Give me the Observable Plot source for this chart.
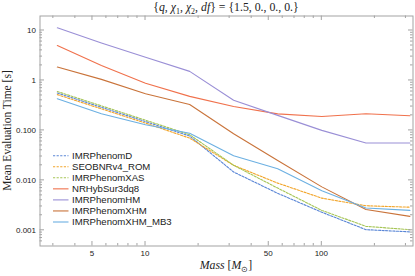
<!DOCTYPE html>
<html>
<head>
<meta charset="utf-8">
<script src="https://cdn.jsdelivr.net/npm/d3@7"></script>
<script src="https://cdn.jsdelivr.net/npm/@observablehq/plot@0.6"></script>
<style>
  html, body { margin: 0; padding: 0; background: #fff; }
  #chart svg { display: block; }
</style>
</head>
<body>
<div id="chart"></div>
<script>
// ---- data ----
const masses = [3.16, 5.62, 10, 17.8, 31.6, 56.2, 100, 178, 316];
const seriesNames = ["IMRPhenomD", "SEOBNRv4_ROM", "IMRPhenomXAS", "NRHybSur3dq8", "IMRPhenomHM", "IMRPhenomXHM", "IMRPhenomXHM_MB3"];
const imrPhenomD   = [0.56, 0.29, 0.15, 0.077, 0.0147, 0.0055, 0.0023, 0.00103, 0.00093];
const seobnrv4ROM  = [0.52, 0.27, 0.14, 0.070, 0.020, 0.0088, 0.0044, 0.0031, 0.0029];
const imrPhenomXAS = [0.60, 0.31, 0.16, 0.082, 0.020, 0.0070, 0.0025, 0.0012, 0.00103];
const nrHybSur     = [5.0, 2.0, 0.88, 0.48, 0.30, 0.214, 0.19, 0.215, 0.196];
const imrPhenomHM  = [11.3, 5.6, 2.9, 1.52, 0.40, 0.20, 0.10, 0.056, 0.056];
const imrPhenomXHM = [1.85, 1.05, 0.54, 0.33, 0.086, 0.025, 0.0074, 0.0026, 0.0019];
const imrPhenomXHMMB3 = [0.43, 0.215, 0.13, 0.088, 0.031, 0.017, 0.0062, 0.0028, 0.0025];
const seriesValues = [imrPhenomD, seobnrv4ROM, imrPhenomXAS, nrHybSur, imrPhenomHM, imrPhenomXHM, imrPhenomXHMMB3];
const seriesColors = ["#5a86d6", "#f2a52a", "#a6c556", "#f0714c", "#9a8fd6", "#c9733a", "#6cb0e2"];
const seriesDashed = [true, true, true, false, false, false, false];
const xTickLabels = [5, 10, 50, 100];
const yTickLabels = [10, 1, 0.1, 0.01, 0.001];
const yTickText = ["10", "1", "0.100", "0.010", "0.001"];

// ---- table ----
const rows = [];
seriesNames.forEach((name, i) => {
  masses.forEach((m, j) => rows.push({series: name, mass: m, time: seriesValues[i][j]}));
});

const W = 415, H = 276;
const lineMarks = seriesNames.map((name, i) =>
  Plot.line(rows.filter(r => r.series === name), {
    x: "mass", y: "time",
    stroke: seriesColors[i],
    strokeWidth: 1.1,
    strokeDasharray: seriesDashed[i] ? "2.2,1.4" : null
  })
);

const plot = Plot.plot({
  width: W, height: H,
  marginLeft: 39.5, marginRight: 2.5, marginTop: 15.5, marginBottom: 30.5,
  style: {background: "#fff", overflow: "visible"},
  x: {type: "log", domain: [2.52, 329], axis: null},
  y: {type: "log", domain: [0.000485, 19.5], axis: null},
  marks: [
    ...lineMarks,
    Plot.frame({stroke: "#a3a3a3", strokeWidth: 1})
  ]
});
document.getElementById("chart").appendChild(plot);

const sx = plot.scale("x"), sy = plot.scale("y");
const x0 = sx.range[0], x1 = sx.range[1];
const y0 = sy.range[0], y1 = sy.range[1]; // y0 bottom, y1 top
const svg = d3.select(plot);
const g = svg.append("g").attr("text-anchor", "start");

// minor / major ticks on all four sides, inward
const xMinor = [3,4,6,7,8,9,20,30,40,60,70,80,90,200,300];
const yMinor = [];
[0.001, 0.01, 0.1, 1, 10].forEach(d => { for (let k = 2; k <= 9; k++) yMinor.push(d * k); });
yMinor.push(0.0006, 0.0007, 0.0008, 0.0009);
const tickColor = "#a3a3a3";
function xt(v, len) {
  const px = sx.apply(v);
  g.append("line").attr("x1", px).attr("x2", px).attr("y1", y0).attr("y2", y0 - len).attr("stroke", tickColor);
  g.append("line").attr("x1", px).attr("x2", px).attr("y1", y1).attr("y2", y1 + len).attr("stroke", tickColor);
}
function yt(v, len) {
  const py = sy.apply(v);
  if (py < Math.min(y0, y1) || py > Math.max(y0, y1)) return;
  g.append("line").attr("y1", py).attr("y2", py).attr("x1", x0).attr("x2", x0 + len).attr("stroke", tickColor);
  g.append("line").attr("y1", py).attr("y2", py).attr("x1", x1).attr("x2", x1 - len).attr("stroke", tickColor);
}
xMinor.forEach(v => xt(v, 2.5));
xTickLabels.forEach(v => xt(v, 4.5));
yMinor.forEach(v => yt(v, 2.5));
yTickLabels.forEach(v => yt(v, 4.5));

const sans = "Liberation Sans, Arial, sans-serif";
const serif = "Liberation Serif, Times New Roman, serif";
xTickLabels.forEach(v => {
  g.append("text").attr("x", sx.apply(v)).attr("y", y0 + 10.5)
    .attr("text-anchor", "middle").attr("font-family", sans).attr("font-size", 8).attr("fill", "#222").text(String(v));
});
yTickLabels.forEach((v, i) => {
  g.append("text").attr("x", x0 - 3.5).attr("y", sy.apply(v) + 3)
    .attr("text-anchor", "end").attr("font-family", sans).attr("font-size", 8).attr("fill", "#222").text(yTickText[i]);
});

// title
const title = g.append("text").attr("x", (x0 + x1) / 2).attr("y", 11)
  .attr("text-anchor", "middle").attr("font-family", serif).attr("font-size", 11.8).attr("fill", "#222");
title.append("tspan").text("{");
title.append("tspan").attr("font-style", "italic").text("q");
title.append("tspan").text(", ");
title.append("tspan").attr("font-style", "italic").text("χ");
title.append("tspan").attr("font-size", 8).attr("dy", 2.5).text("1");
title.append("tspan").attr("dy", -2.5).text(", ");
title.append("tspan").attr("font-style", "italic").text("χ");
title.append("tspan").attr("font-size", 8).attr("dy", 2.5).text("2");
title.append("tspan").attr("dy", -2.5).text(", ");
title.append("tspan").attr("font-style", "italic").text("df");
title.append("tspan").text("} = {1.5, 0., 0., 0.}");

// x label
const xl = g.append("text").attr("x", (x0 + x1) / 2).attr("y", 269)
  .attr("text-anchor", "middle").attr("font-family", serif).attr("font-size", 11.8).attr("fill", "#222");
xl.append("tspan").attr("font-style", "italic").text("Mass");
xl.append("tspan").text(" [");
xl.append("tspan").attr("font-style", "italic").text("M");
xl.append("tspan").attr("font-size", 8).attr("dy", 2.5).text("⊙");
xl.append("tspan").attr("dy", -2.5).text("]");

// y label
g.append("text").attr("transform", `translate(10.5,${(y0 + y1) / 2}) rotate(-90)`)
  .attr("text-anchor", "middle").attr("font-family", serif).attr("font-size", 11.5).attr("fill", "#222")
  .text("Mean Evaluation Time [s]");

// legend
const lg = g.append("g");
seriesNames.forEach((name, i) => {
  const ly = 155.7 + i * 11.05;
  lg.append("line").attr("x1", 53).attr("x2", 68.5).attr("y1", ly).attr("y2", ly)
    .attr("stroke", seriesColors[i]).attr("stroke-width", 1.1)
    .attr("stroke-dasharray", seriesDashed[i] ? "2.2,1.4" : null);
  lg.append("text").attr("x", 72).attr("y", ly + 3.4).attr("text-anchor", "start").attr("font-family", sans)
    .attr("font-size", 9.6).attr("fill", "#222").text(name);
});
</script>
</body>
</html>
